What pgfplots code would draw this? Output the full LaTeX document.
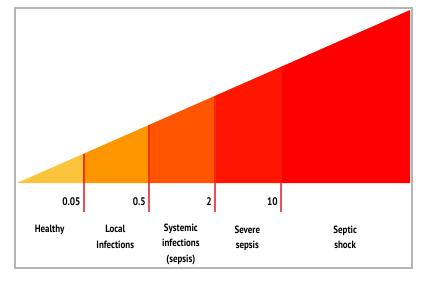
\documentclass[border=0pt]{standalone}
\usepackage{pgfplots}
\pgfplotsset{compat=1.18}
\usepackage{fontspec}
\setmainfont{PT Sans}[FakeStretch=0.85]
\definecolor{cHealthy}{HTML}{FCC33D}
\definecolor{cLocal}{HTML}{FF9500}
\definecolor{cSystemic}{HTML}{FF5500}
\definecolor{cSevere}{HTML}{FF1600}
\definecolor{cShock}{HTML}{FF0000}
\definecolor{cLine}{RGB}{235,80,90}
\definecolor{cLineB}{RGB}{238,50,30}
\definecolor{cFrame}{HTML}{B4B4B4}
\begin{document}
\begin{tikzpicture}
\begin{axis}[
  name=ax,
  scale only axis,
  width=397pt, height=260pt,
  xmin=-0.51, xmax=100.51,
  ymin=-49.13, ymax=101.16,
  xtick=\empty, ytick=\empty,
  axis line style={cFrame, line width=1.2pt},
  clip=false,
]
% segments (x boundaries 0, 17, 33.6, 50.4, 67.2, 100; top edge rises linearly to 100)
\addplot[fill=cHealthy, draw=none] coordinates {(0,0) (17,17) (17,0)} -- cycle;
\addplot[fill=cLocal, draw=none] coordinates {(17,0) (17,17) (33.6,33.6) (33.6,0)} -- cycle;
\addplot[fill=cSystemic, draw=none] coordinates {(33.6,0) (33.6,33.6) (50.4,50.4) (50.4,0)} -- cycle;
\addplot[fill=cSevere, draw=none] coordinates {(50.4,0) (50.4,50.4) (67.2,67.2) (67.2,0)} -- cycle;
\addplot[fill=cShock, draw=none] coordinates {(67.2,0) (67.2,67.2) (100,100) (100,0)} -- cycle;
% divider lines below the baseline
\addplot[draw=cLine, no markers, line width=1.6pt] coordinates {(17,-16.8) (17,0)};
\addplot[draw=cLine, no markers, line width=1.6pt] coordinates {(33.6,-16.8) (33.6,0)};
\addplot[draw=cLine, no markers, line width=1.6pt] coordinates {(50.4,-16.8) (50.4,0)};
\addplot[draw=cLine, no markers, line width=1.6pt] coordinates {(67.2,-16.8) (67.2,0)};
% divider lines inside the coloured area
\addplot[draw=cLineB, no markers, line width=1.6pt] coordinates {(17,0) (17,17)};
\addplot[draw=cLineB, no markers, line width=1.6pt] coordinates {(33.6,0) (33.6,33.6)};
\addplot[draw=cLineB!60!cSevere, no markers, line width=1.4pt] coordinates {(50.4,0) (50.4,50.4)};
\addplot[draw=cLineB!40!cShock, no markers, line width=1.2pt] coordinates {(67.2,0) (67.2,67.2)};
% threshold values
\node[anchor=east, font=\fontsize{11}{12}\selectfont\bfseries, inner sep=0pt] at (axis cs:16.2,-11) {0.05};
\node[anchor=east, font=\fontsize{11}{12}\selectfont\bfseries, inner sep=0pt] at (axis cs:32.8,-11) {0.5};
\node[anchor=east, font=\fontsize{11}{12}\selectfont\bfseries, inner sep=0pt] at (axis cs:49.6,-11) {2};
\node[anchor=east, font=\fontsize{11}{12}\selectfont\bfseries, inner sep=0pt] at (axis cs:66.4,-11) {10};
% category names
\tikzset{cat/.style={anchor=north, align=center, inner sep=0pt, font=\fontsize{10.5}{15.5}\selectfont\bfseries}}
\node[cat] at (axis cs:8.3,-24.5) {Healthy};
\node[cat] at (axis cs:25,-24.5) {Local\\Infections};
\node[cat] at (axis cs:41.7,-23.5) {Systemic\\infections\\(sepsis)};
\node[cat] at (axis cs:58.6,-24.5) {Severe\\sepsis};
\node[cat] at (axis cs:83.5,-24.5) {Septic\\shock};
\end{axis}
\path[use as bounding box] ([shift={(-15pt,-32pt)}]ax.south west) rectangle ([shift={(18pt,8pt)}]ax.north east);
\end{tikzpicture}
\end{document}
